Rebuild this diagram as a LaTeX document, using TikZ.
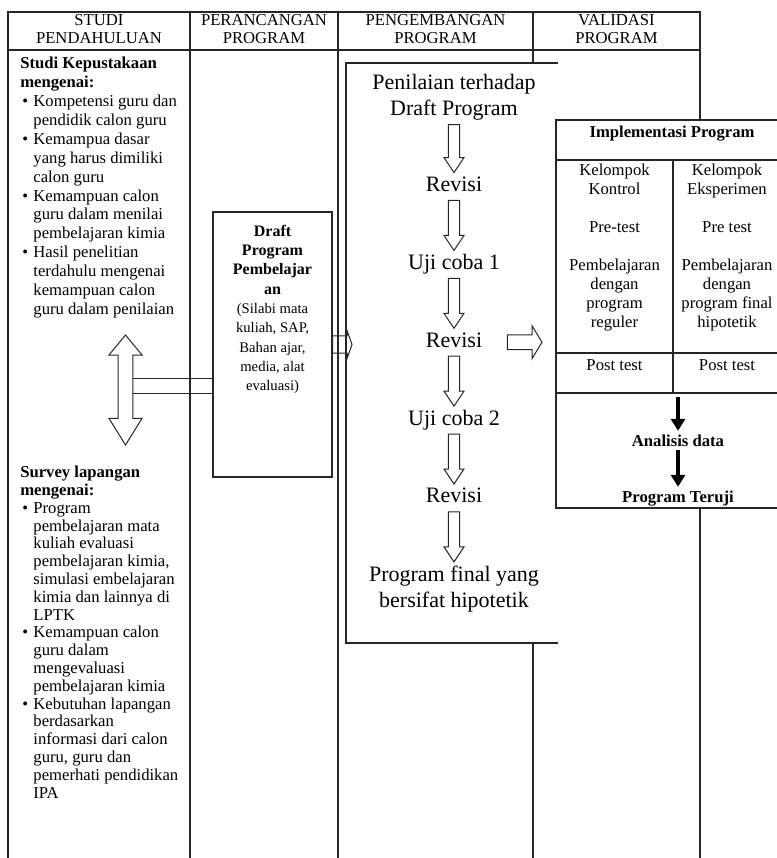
\documentclass[tikz,border=0pt]{standalone}
\usepackage{fontspec}
\setmainfont{Liberation Serif}
\usetikzlibrary{positioning,calc,arrows.meta}
\newcommand{\draftbf}[1]{{\fontsize{12}{14.5}\selectfont\bfseries #1}}

\begin{document}
\begin{tikzpicture}[
  x=0.75pt, y=-0.75pt,
  node distance = 37.5pt,
  rule/.style      = {draw=black!85, line width=0.8pt},
  hdr/.style       = {align=center, inner sep=0pt, font=\fontsize{12.5}{13.5}\selectfont},
  body/.style      = {anchor=north west, inner sep=0pt, font=\fontsize{12.5}{14.2}\selectfont},
  drafttext/.style = {align=center, inner sep=0pt, font=\fontsize{11}{14.5}\selectfont},
  stage/.style     = {align=center, inner sep=3pt, text height=11pt, text depth=3.5pt,
                      font=\fontsize{16.5}{19.5}\selectfont},
  stagetwo/.style  = {align=center, inner sep=3pt, font=\fontsize{16.5}{19.5}\selectfont},
  cell/.style      = {align=center, inner sep=0pt, anchor=north, font=\fontsize{12.5}{14.2}\selectfont},
  result/.style    = {inner sep=2.5pt, font=\fontsize{12.5}{14.2}\selectfont\bfseries},
  fatarr/.style    = {line width=2.4pt, -{Triangle[width=10.5pt,length=9pt]}},
  dblk/.style n args = {3}{to path={let \p1=(\tikztostart), \p2=(\tikztotarget) in
      (\x1-#1,\y1) -- (\x1-#1,\y2+#3) -- (\x1-#2,\y2+#3) -- (\x1,\y2)
      -- (\x1+#2,\y2+#3) -- (\x1+#1,\y2+#3) -- (\x1+#1,\y1) -- cycle}},
  rblk/.style n args = {3}{to path={let \p1=(\tikztostart), \p2=(\tikztotarget) in
      (\x1,\y1+#1) -- (\x2-#3,\y1+#1) -- (\x2-#3,\y1+#2) -- (\x2,\y1)
      -- (\x2-#3,\y1-#2) -- (\x2-#3,\y1-#1) -- (\x1,\y1-#1) -- cycle}},
  vblk/.style n args = {4}{to path={let \p1=(\tikztostart), \p2=(\tikztotarget) in
      (\x1,\y1) -- (\x1+#2,\y1-#3) -- (\x1+#1,\y1-#3) -- (\x1+#1,\y2+#4)
      -- (\x1+#2,\y2+#4) -- (\x1,\y2) -- (\x1-#2,\y2+#4) -- (\x1-#1,\y2+#4)
      -- (\x1-#1,\y1-#3) -- (\x1-#2,\y1-#3) -- cycle}},
  stagearr/.style  = {rule, line width=0.75pt, dblk={4.3pt}{7.5pt}{11.25pt}},
]
\useasboundingbox (0,0) rectangle (777,858);

% table
\draw[rule] (8,858) -- (8,12) -- (700,12) -- (700,858);
\draw[rule] (8,50) -- (700,50);
\foreach \x in {190,338,533}
  \draw[rule] (\x,12) -- (\x,858);

\node[hdr] (h1) at (99,29)    {STUDI\\PENDAHULUAN};
\node[hdr] (h2) at (264,29)   {PERANCANGAN\\PROGRAM};
\node[hdr] (h3) at (435.5,29) {PENGEMBANGAN\\PROGRAM};
\node[hdr] (h4) at (616.5,29) {VALIDASI\\PROGRAM};

% studi pendahuluan
\node[body] (kepus) at (20,55) {\begin{tabular}{@{\hspace{1.5pt}}l@{\hspace{4pt}}l@{}}
  \multicolumn{2}{@{}l@{}}{\textbf{Studi Kepustakaan}}\\
  \multicolumn{2}{@{}l@{}}{\textbf{mengenai:}}\\
  \textbullet & Kompetensi guru dan\\
              & pendidik calon guru\\
  \textbullet & Kemampua dasar\\
              & yang harus dimiliki\\
              & calon guru\\
  \textbullet & Kemampuan calon\\
              & guru dalam menilai\\
              & pembelajaran kimia\\
  \textbullet & Hasil penelitian\\
              & terdahulu mengenai\\
              & kemampuan calon\\
              & guru dalam penilaian
\end{tabular}};
\node[body, font=\fontsize{12.5}{13.35}\selectfont] (survei) at (20,465) {\begin{tabular}{@{\hspace{1.5pt}}l@{\hspace{4pt}}l@{}}
  \multicolumn{2}{@{}l@{}}{\textbf{Survey lapangan}}\\
  \multicolumn{2}{@{}l@{}}{\textbf{mengenai:}}\\
  \textbullet & Program\\
              & pembelajaran mata\\
              & kuliah evaluasi\\
              & pembelajaran kimia,\\
              & simulasi embelajaran\\
              & kimia dan lainnya di\\
              & LPTK\\
  \textbullet & Kemampuan calon\\
              & guru dalam\\
              & mengevaluasi\\
              & pembelajaran kimia\\
  \textbullet & Kebutuhan lapangan\\
              & berdasarkan\\
              & informasi dari calon\\
              & guru, guru dan\\
              & pemerhati pendidikan\\
              & IPA
\end{tabular}};

% pengembangan box
\fill[white] (346,63) rectangle (558,643);
\draw[rule] (558,63) -- (346,63) -- (346,643) -- (558,643);

% implementasi box
\fill[white] (556,120) rectangle (777,508);
\draw[rule] (777,120) -- (556,120) -- (556,508) -- (777,508);
\draw[rule] (556,160) -- (777,160);
\draw[rule] (556,353) -- (777,353);
\draw[rule] (556,393) -- (777,393);
\draw[rule] (673,160) -- (673,393);

% perancangan
\node[rule, minimum width=89.25pt, minimum height=198.75pt, inner sep=0pt] (draft) at (272.5,344.5) {};
\node[drafttext, below=9.75pt of draft.north] (dtext)
  {\draftbf{Draft}\\\draftbf{Program}\\\draftbf{Pembelajar}\\\draftbf{an}\\(Silabi mata\\kuliah, SAP,\\Bahan ajar,\\media, alat\\evaluasi)};

\coordinate (dtop) at (125.5,335);
\coordinate (dbot) at (125.5,445);
\coordinate (barn) at (133,378);
\coordinate (bars) at (133,393);
\draw[rule, line width=0.75pt, vblk={5.6pt}{12.4pt}{15pt}{20pt}] (dtop) to (dbot);
\draw[rule, line width=0.75pt] (barn) -- (barn -| draft.west);
\draw[rule, line width=0.75pt] (bars) -- (bars -| draft.west);

\coordinate (ptip) at (352,344.5);
\draw[rule, line width=0.75pt, rblk={6.4pt}{10.5pt}{3.75pt}] (draft.east) to (ptip);

% pengembangan
\node[stagetwo, anchor=north] (pen) at (454,70) {Penilaian terhadap\\Draft Program};
\node[stage, below=36pt of pen] (rev1) {Revisi};
\node[stage, below=of rev1] (uji1) {Uji coba 1};
\node[stage, below=of uji1] (rev2) {Revisi};
\node[stage, below=of rev2] (uji2) {Uji coba 2};
\node[stage, below=of uji2] (rev3) {Revisi};
\node[stagetwo, below=of rev3] (final) {Program final yang\\bersifat hipotetik};

\draw[stagearr] (pen.south)  to (rev1.north);
\draw[stagearr] (rev1.south) to (uji1.north);
\draw[stagearr] (uji1.south) to (rev2.north);
\draw[stagearr] (rev2.south) to (uji2.north);
\draw[stagearr] (uji2.south) to (rev3.north);
\draw[stagearr] (rev3.south) to (final.north);

\coordinate (vtip) at (542,340);
\draw[rule, line width=0.75pt, rblk={5.6pt}{12.4pt}{7.5pt}] ([xshift=15.75pt]rev2.east) to (vtip);

% validasi
\node[result, anchor=base] (impl) at (672,137) {Implementasi Program};
\node[cell] (kkon) at (614.5,164) {Kelompok\\Kontrol\\[14.2pt]Pre-test\\[14.2pt]Pembelajaran\\dengan\\program\\reguler};
\node[cell] (keks) at (727,164)   {Kelompok\\Eksperimen\\[14.2pt]Pre test\\[14.2pt]Pembelajaran\\dengan\\program final\\hipotetik};
\node[cell] (postk) at (614.5,359) {Post test};
\node[cell] (poste) at (727,359)   {Post test};

\coordinate (asep) at (678,397);
\node[result, anchor=base] (anal)   at (678,446) {Analisis data};
\node[result, anchor=base] (teruji) at (678,502) {Program Teruji};
\draw[fatarr] (asep) -- (anal.north);
\draw[fatarr] (anal.south) -- (teruji.north);
\end{tikzpicture}
\end{document}
